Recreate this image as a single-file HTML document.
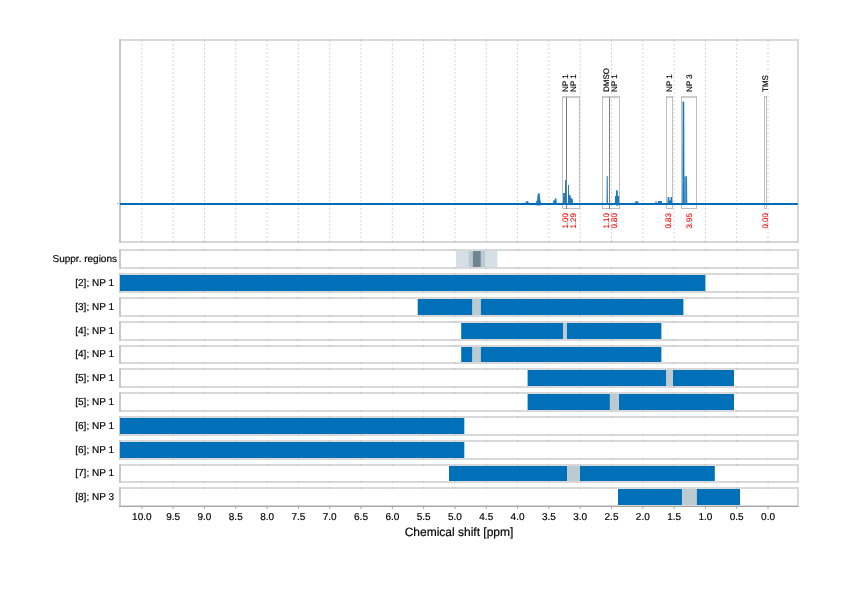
<!DOCTYPE html><html><head><meta charset="utf-8"><style>html,body{margin:0;padding:0;background:#fff;overflow:hidden}svg{display:block;will-change:transform}text{font-family:"Liberation Sans",sans-serif;text-rendering:geometricPrecision}</style></head><body>
<svg width="842" height="595" viewBox="0 0 842 595">
<line x1="768.05" y1="40" x2="768.05" y2="242" stroke="#d6d6d6" stroke-width="1" stroke-dasharray="2,2"/>
<line x1="736.74" y1="40" x2="736.74" y2="242" stroke="#d6d6d6" stroke-width="1" stroke-dasharray="2,2"/>
<line x1="705.43" y1="40" x2="705.43" y2="242" stroke="#d6d6d6" stroke-width="1" stroke-dasharray="2,2"/>
<line x1="674.12" y1="40" x2="674.12" y2="242" stroke="#d6d6d6" stroke-width="1" stroke-dasharray="2,2"/>
<line x1="642.81" y1="40" x2="642.81" y2="242" stroke="#d6d6d6" stroke-width="1" stroke-dasharray="2,2"/>
<line x1="611.50" y1="40" x2="611.50" y2="242" stroke="#d6d6d6" stroke-width="1" stroke-dasharray="2,2"/>
<line x1="580.19" y1="40" x2="580.19" y2="242" stroke="#d6d6d6" stroke-width="1" stroke-dasharray="2,2"/>
<line x1="548.88" y1="40" x2="548.88" y2="242" stroke="#d6d6d6" stroke-width="1" stroke-dasharray="2,2"/>
<line x1="517.57" y1="40" x2="517.57" y2="242" stroke="#d6d6d6" stroke-width="1" stroke-dasharray="2,2"/>
<line x1="486.26" y1="40" x2="486.26" y2="242" stroke="#d6d6d6" stroke-width="1" stroke-dasharray="2,2"/>
<line x1="454.95" y1="40" x2="454.95" y2="242" stroke="#d6d6d6" stroke-width="1" stroke-dasharray="2,2"/>
<line x1="423.64" y1="40" x2="423.64" y2="242" stroke="#d6d6d6" stroke-width="1" stroke-dasharray="2,2"/>
<line x1="392.33" y1="40" x2="392.33" y2="242" stroke="#d6d6d6" stroke-width="1" stroke-dasharray="2,2"/>
<line x1="361.02" y1="40" x2="361.02" y2="242" stroke="#d6d6d6" stroke-width="1" stroke-dasharray="2,2"/>
<line x1="329.71" y1="40" x2="329.71" y2="242" stroke="#d6d6d6" stroke-width="1" stroke-dasharray="2,2"/>
<line x1="298.40" y1="40" x2="298.40" y2="242" stroke="#d6d6d6" stroke-width="1" stroke-dasharray="2,2"/>
<line x1="267.09" y1="40" x2="267.09" y2="242" stroke="#d6d6d6" stroke-width="1" stroke-dasharray="2,2"/>
<line x1="235.78" y1="40" x2="235.78" y2="242" stroke="#d6d6d6" stroke-width="1" stroke-dasharray="2,2"/>
<line x1="204.47" y1="40" x2="204.47" y2="242" stroke="#d6d6d6" stroke-width="1" stroke-dasharray="2,2"/>
<line x1="173.16" y1="40" x2="173.16" y2="242" stroke="#d6d6d6" stroke-width="1" stroke-dasharray="2,2"/>
<line x1="141.85" y1="40" x2="141.85" y2="242" stroke="#d6d6d6" stroke-width="1" stroke-dasharray="2,2"/>
<line x1="119" y1="40.0" x2="799" y2="40.0" stroke="#dadada" stroke-width="2"/>
<line x1="119" y1="242.0" x2="799" y2="242.0" stroke="#d6d6d6" stroke-width="2"/>
<line x1="120.0" y1="39" x2="120.0" y2="243" stroke="#c6c6c6" stroke-width="2"/>
<line x1="798.0" y1="39" x2="798.0" y2="243" stroke="#d8d8d8" stroke-width="2"/>
<line x1="768.05" y1="39" x2="768.05" y2="41" stroke="#c4c4c4" stroke-width="1"/>
<line x1="768.05" y1="241" x2="768.05" y2="243" stroke="#c4c4c4" stroke-width="1"/>
<line x1="736.74" y1="39" x2="736.74" y2="41" stroke="#c4c4c4" stroke-width="1"/>
<line x1="736.74" y1="241" x2="736.74" y2="243" stroke="#c4c4c4" stroke-width="1"/>
<line x1="705.43" y1="39" x2="705.43" y2="41" stroke="#c4c4c4" stroke-width="1"/>
<line x1="705.43" y1="241" x2="705.43" y2="243" stroke="#c4c4c4" stroke-width="1"/>
<line x1="674.12" y1="39" x2="674.12" y2="41" stroke="#c4c4c4" stroke-width="1"/>
<line x1="674.12" y1="241" x2="674.12" y2="243" stroke="#c4c4c4" stroke-width="1"/>
<line x1="642.81" y1="39" x2="642.81" y2="41" stroke="#c4c4c4" stroke-width="1"/>
<line x1="642.81" y1="241" x2="642.81" y2="243" stroke="#c4c4c4" stroke-width="1"/>
<line x1="611.5" y1="39" x2="611.5" y2="41" stroke="#c4c4c4" stroke-width="1"/>
<line x1="611.5" y1="241" x2="611.5" y2="243" stroke="#c4c4c4" stroke-width="1"/>
<line x1="580.19" y1="39" x2="580.19" y2="41" stroke="#c4c4c4" stroke-width="1"/>
<line x1="580.19" y1="241" x2="580.19" y2="243" stroke="#c4c4c4" stroke-width="1"/>
<line x1="548.88" y1="39" x2="548.88" y2="41" stroke="#c4c4c4" stroke-width="1"/>
<line x1="548.88" y1="241" x2="548.88" y2="243" stroke="#c4c4c4" stroke-width="1"/>
<line x1="517.57" y1="39" x2="517.57" y2="41" stroke="#c4c4c4" stroke-width="1"/>
<line x1="517.57" y1="241" x2="517.57" y2="243" stroke="#c4c4c4" stroke-width="1"/>
<line x1="486.26" y1="39" x2="486.26" y2="41" stroke="#c4c4c4" stroke-width="1"/>
<line x1="486.26" y1="241" x2="486.26" y2="243" stroke="#c4c4c4" stroke-width="1"/>
<line x1="454.95" y1="39" x2="454.95" y2="41" stroke="#c4c4c4" stroke-width="1"/>
<line x1="454.95" y1="241" x2="454.95" y2="243" stroke="#c4c4c4" stroke-width="1"/>
<line x1="423.64" y1="39" x2="423.64" y2="41" stroke="#c4c4c4" stroke-width="1"/>
<line x1="423.64" y1="241" x2="423.64" y2="243" stroke="#c4c4c4" stroke-width="1"/>
<line x1="392.33" y1="39" x2="392.33" y2="41" stroke="#c4c4c4" stroke-width="1"/>
<line x1="392.33" y1="241" x2="392.33" y2="243" stroke="#c4c4c4" stroke-width="1"/>
<line x1="361.02" y1="39" x2="361.02" y2="41" stroke="#c4c4c4" stroke-width="1"/>
<line x1="361.02" y1="241" x2="361.02" y2="243" stroke="#c4c4c4" stroke-width="1"/>
<line x1="329.71" y1="39" x2="329.71" y2="41" stroke="#c4c4c4" stroke-width="1"/>
<line x1="329.71" y1="241" x2="329.71" y2="243" stroke="#c4c4c4" stroke-width="1"/>
<line x1="298.4" y1="39" x2="298.4" y2="41" stroke="#c4c4c4" stroke-width="1"/>
<line x1="298.4" y1="241" x2="298.4" y2="243" stroke="#c4c4c4" stroke-width="1"/>
<line x1="267.09" y1="39" x2="267.09" y2="41" stroke="#c4c4c4" stroke-width="1"/>
<line x1="267.09" y1="241" x2="267.09" y2="243" stroke="#c4c4c4" stroke-width="1"/>
<line x1="235.78" y1="39" x2="235.78" y2="41" stroke="#c4c4c4" stroke-width="1"/>
<line x1="235.78" y1="241" x2="235.78" y2="243" stroke="#c4c4c4" stroke-width="1"/>
<line x1="204.47" y1="39" x2="204.47" y2="41" stroke="#c4c4c4" stroke-width="1"/>
<line x1="204.47" y1="241" x2="204.47" y2="243" stroke="#c4c4c4" stroke-width="1"/>
<line x1="173.16" y1="39" x2="173.16" y2="41" stroke="#c4c4c4" stroke-width="1"/>
<line x1="173.16" y1="241" x2="173.16" y2="243" stroke="#c4c4c4" stroke-width="1"/>
<line x1="141.85" y1="39" x2="141.85" y2="41" stroke="#c4c4c4" stroke-width="1"/>
<line x1="141.85" y1="241" x2="141.85" y2="243" stroke="#c4c4c4" stroke-width="1"/>
<line x1="562" y1="97" x2="567" y2="97" stroke="#c8c8c8" stroke-width="1.8"/>
<line x1="562" y1="208.5" x2="567" y2="208.5" stroke="#c0c0c0" stroke-width="1"/>
<line x1="562.5" y1="96.2" x2="562.5" y2="209" stroke="#c0c0c0" stroke-width="1"/>
<line x1="566.5" y1="96.2" x2="566.5" y2="209" stroke="#c0c0c0" stroke-width="1"/>
<line x1="566" y1="97" x2="580" y2="97" stroke="#c8c8c8" stroke-width="1.8"/>
<line x1="566" y1="208.5" x2="580" y2="208.5" stroke="#c0c0c0" stroke-width="1"/>
<line x1="566.5" y1="96.2" x2="566.5" y2="209" stroke="#c0c0c0" stroke-width="1"/>
<line x1="579.5" y1="96.2" x2="579.5" y2="209" stroke="#c0c0c0" stroke-width="1"/>
<line x1="602" y1="97" x2="610" y2="97" stroke="#c8c8c8" stroke-width="1.8"/>
<line x1="602" y1="208.5" x2="610" y2="208.5" stroke="#c0c0c0" stroke-width="1"/>
<line x1="602.5" y1="96.2" x2="602.5" y2="209" stroke="#c0c0c0" stroke-width="1"/>
<line x1="609.5" y1="96.2" x2="609.5" y2="209" stroke="#c0c0c0" stroke-width="1"/>
<line x1="609" y1="97" x2="620" y2="97" stroke="#c8c8c8" stroke-width="1.8"/>
<line x1="609" y1="208.5" x2="620" y2="208.5" stroke="#c0c0c0" stroke-width="1"/>
<line x1="609.5" y1="96.2" x2="609.5" y2="209" stroke="#c0c0c0" stroke-width="1"/>
<line x1="619.5" y1="96.2" x2="619.5" y2="209" stroke="#c0c0c0" stroke-width="1"/>
<line x1="666" y1="97" x2="673" y2="97" stroke="#c8c8c8" stroke-width="1.8"/>
<line x1="666" y1="208.5" x2="673" y2="208.5" stroke="#c0c0c0" stroke-width="1"/>
<line x1="666.5" y1="96.2" x2="666.5" y2="209" stroke="#c0c0c0" stroke-width="1"/>
<line x1="672.5" y1="96.2" x2="672.5" y2="209" stroke="#c0c0c0" stroke-width="1"/>
<line x1="681" y1="97" x2="697" y2="97" stroke="#c8c8c8" stroke-width="1.8"/>
<line x1="681" y1="208.5" x2="697" y2="208.5" stroke="#c0c0c0" stroke-width="1"/>
<line x1="681.5" y1="96.2" x2="681.5" y2="209" stroke="#c0c0c0" stroke-width="1"/>
<line x1="696.5" y1="96.2" x2="696.5" y2="209" stroke="#c0c0c0" stroke-width="1"/>
<line x1="764" y1="97" x2="767" y2="97" stroke="#c8c8c8" stroke-width="1.8"/>
<line x1="764" y1="208.5" x2="767" y2="208.5" stroke="#c0c0c0" stroke-width="1"/>
<line x1="764.5" y1="96.2" x2="764.5" y2="209" stroke="#c0c0c0" stroke-width="1"/>
<line x1="766.5" y1="96.2" x2="766.5" y2="209" stroke="#c0c0c0" stroke-width="1"/>
<line x1="566.5" y1="97.5" x2="566.5" y2="209" stroke="#7a7a7a" stroke-width="1"/>
<line x1="609.5" y1="97.5" x2="609.5" y2="209" stroke="#7a7a7a" stroke-width="1"/>
<path d="M120,203.9 L797.8,203.9" fill="none" stroke="#006bb6" stroke-width="2"/>
<path d="M524.8,203.9 L526,201.8 L527,201.0 L528.2,201.8 L529.4,203.9Z" fill="#006bb6" fill-opacity="0.9"/>
<path d="M536.0,205.2 L536.2,201.5 L537.2,200 L537.4,196 L538.2,193.2 L539.6,193.2 L540.0,197 L540.3,200.5 L541.0,202 L541.2,205.2 L539,205.6Z" fill="#006bb6" fill-opacity="0.9"/>
<path d="M553.0,204.8 L553.3,200.4 L554.6,200.2 L555.0,198.4 L556.4,198.3 L556.8,204.8Z" fill="#006bb6" fill-opacity="0.9"/>
<path d="M563.0,203.9 L563.2,193.0 L565.0,193.0 L565.1,180.0 L566.0,180.0 L566.2,203.0 L567.9,203.0 L568.0,185.0 L568.9,185.0 L569.0,195.0 L570.5,195.0 L570.6,197.4 L571.5,197.4 L571.6,198.8 L572.7,198.8 L573.0,204.8 L571,205.2Z" fill="#006bb6" fill-opacity="0.9"/>
<path d="M606.5,203.9 L606.7,176.1 L607.7,176.1 L607.9,203.9Z" fill="#006bb6" fill-opacity="0.9"/>
<path d="M614.8,203.9 L615.0,195.9 L616.0,195.9 L616.1,190.2 L617.8,190.2 L617.9,195.9 L619.1,195.9 L619.2,203.9 L618.5,205.5 L616.2,205.5Z" fill="#006bb6" fill-opacity="0.9"/>
<path d="M634.8,203.9 L635.4,201.2 L638.0,201.2 L638.6,203.9 L637,205 L636.2,205Z" fill="#006bb6" fill-opacity="0.9"/>
<path d="M655.3,203.9 L655.5,201.3 L656.6,201.3 L656.8,203.9Z" fill="#006bb6" fill-opacity="0.9"/>
<path d="M657.8,204.6 L658.0,201.1 L661.8,201.1 L662.0,204.6Z" fill="#006bb6" fill-opacity="0.9"/>
<path d="M667.4,203.9 L667.7,197.1 L669.2,197.1 L669.5,200.5 L670.4,200.5 L670.6,197.1 L672.0,197.1 L672.3,203.9Z" fill="#006bb6" fill-opacity="0.9"/>
<path d="M684.2,203.9 L684.4,176.2 L687.0,176.2 L687.2,203.9 Z" fill="#006bb6" fill-opacity="0.7"/>
<path d="M686.2,203.9 L686.3,176.5 L687.0,176.5 L687.2,203.9 Z" fill="#006bb6" fill-opacity="0.6"/>
<path d="M682.3,204.9 L682.6,101.5 L684.2,101.5 L684.5,204.9 Z" fill="#006bb6" fill-opacity="0.92"/>
<line x1="117" y1="203.6" x2="119.2" y2="203.6" stroke="#a0a0a0" stroke-width="0.8"/>
<text transform="translate(567.50,92) rotate(-90)" font-size="8" fill="#000" stroke="#000" stroke-width="0.15">NP 1</text>
<text transform="translate(567.80,228.6) rotate(-90)" font-size="8" fill="#ff0000" stroke="#ff0000" stroke-width="0.1">1.00</text>
<text transform="translate(575.60,92) rotate(-90)" font-size="8" fill="#000" stroke="#000" stroke-width="0.15">NP 1</text>
<text transform="translate(575.80,228.6) rotate(-90)" font-size="8" fill="#ff0000" stroke="#ff0000" stroke-width="0.1">1.29</text>
<text transform="translate(609.10,92) rotate(-90)" font-size="8" fill="#000" stroke="#000" stroke-width="0.15">DMSO</text>
<text transform="translate(609.00,228.6) rotate(-90)" font-size="8" fill="#ff0000" stroke="#ff0000" stroke-width="0.1">1.10</text>
<text transform="translate(616.50,92) rotate(-90)" font-size="8" fill="#000" stroke="#000" stroke-width="0.15">NP 1</text>
<text transform="translate(616.60,228.6) rotate(-90)" font-size="8" fill="#ff0000" stroke="#ff0000" stroke-width="0.1">0.80</text>
<text transform="translate(671.80,92) rotate(-90)" font-size="8" fill="#000" stroke="#000" stroke-width="0.15">NP 1</text>
<text transform="translate(671.40,228.6) rotate(-90)" font-size="8" fill="#ff0000" stroke="#ff0000" stroke-width="0.1">0.83</text>
<text transform="translate(691.50,92) rotate(-90)" font-size="8" fill="#000" stroke="#000" stroke-width="0.15">NP 3</text>
<text transform="translate(691.90,228.6) rotate(-90)" font-size="8" fill="#ff0000" stroke="#ff0000" stroke-width="0.1">3.95</text>
<text transform="translate(768.30,92) rotate(-90)" font-size="8" fill="#000" stroke="#000" stroke-width="0.15">TMS</text>
<text transform="translate(768.00,228.6) rotate(-90)" font-size="8" fill="#ff0000" stroke="#ff0000" stroke-width="0.1">0.00</text>
<line x1="119" y1="250.0" x2="799" y2="250.0" stroke="#d9d9d9" stroke-width="2"/>
<line x1="119" y1="268.0" x2="799" y2="268.0" stroke="#d9d9d9" stroke-width="2"/>
<line x1="120.0" y1="249" x2="120.0" y2="269" stroke="#c8c8c8" stroke-width="2"/>
<line x1="798.0" y1="249" x2="798.0" y2="269" stroke="#d8d8d8" stroke-width="2"/>
<line x1="768.05" y1="249" x2="768.05" y2="251" stroke="#c4c4c4" stroke-width="1"/>
<line x1="768.05" y1="267" x2="768.05" y2="269" stroke="#c4c4c4" stroke-width="1"/>
<line x1="736.74" y1="249" x2="736.74" y2="251" stroke="#c4c4c4" stroke-width="1"/>
<line x1="736.74" y1="267" x2="736.74" y2="269" stroke="#c4c4c4" stroke-width="1"/>
<line x1="705.43" y1="249" x2="705.43" y2="251" stroke="#c4c4c4" stroke-width="1"/>
<line x1="705.43" y1="267" x2="705.43" y2="269" stroke="#c4c4c4" stroke-width="1"/>
<line x1="674.12" y1="249" x2="674.12" y2="251" stroke="#c4c4c4" stroke-width="1"/>
<line x1="674.12" y1="267" x2="674.12" y2="269" stroke="#c4c4c4" stroke-width="1"/>
<line x1="642.81" y1="249" x2="642.81" y2="251" stroke="#c4c4c4" stroke-width="1"/>
<line x1="642.81" y1="267" x2="642.81" y2="269" stroke="#c4c4c4" stroke-width="1"/>
<line x1="611.5" y1="249" x2="611.5" y2="251" stroke="#c4c4c4" stroke-width="1"/>
<line x1="611.5" y1="267" x2="611.5" y2="269" stroke="#c4c4c4" stroke-width="1"/>
<line x1="580.19" y1="249" x2="580.19" y2="251" stroke="#c4c4c4" stroke-width="1"/>
<line x1="580.19" y1="267" x2="580.19" y2="269" stroke="#c4c4c4" stroke-width="1"/>
<line x1="548.88" y1="249" x2="548.88" y2="251" stroke="#c4c4c4" stroke-width="1"/>
<line x1="548.88" y1="267" x2="548.88" y2="269" stroke="#c4c4c4" stroke-width="1"/>
<line x1="517.57" y1="249" x2="517.57" y2="251" stroke="#c4c4c4" stroke-width="1"/>
<line x1="517.57" y1="267" x2="517.57" y2="269" stroke="#c4c4c4" stroke-width="1"/>
<line x1="486.26" y1="249" x2="486.26" y2="251" stroke="#c4c4c4" stroke-width="1"/>
<line x1="486.26" y1="267" x2="486.26" y2="269" stroke="#c4c4c4" stroke-width="1"/>
<line x1="454.95" y1="249" x2="454.95" y2="251" stroke="#c4c4c4" stroke-width="1"/>
<line x1="454.95" y1="267" x2="454.95" y2="269" stroke="#c4c4c4" stroke-width="1"/>
<line x1="423.64" y1="249" x2="423.64" y2="251" stroke="#c4c4c4" stroke-width="1"/>
<line x1="423.64" y1="267" x2="423.64" y2="269" stroke="#c4c4c4" stroke-width="1"/>
<line x1="392.33" y1="249" x2="392.33" y2="251" stroke="#c4c4c4" stroke-width="1"/>
<line x1="392.33" y1="267" x2="392.33" y2="269" stroke="#c4c4c4" stroke-width="1"/>
<line x1="361.02" y1="249" x2="361.02" y2="251" stroke="#c4c4c4" stroke-width="1"/>
<line x1="361.02" y1="267" x2="361.02" y2="269" stroke="#c4c4c4" stroke-width="1"/>
<line x1="329.71" y1="249" x2="329.71" y2="251" stroke="#c4c4c4" stroke-width="1"/>
<line x1="329.71" y1="267" x2="329.71" y2="269" stroke="#c4c4c4" stroke-width="1"/>
<line x1="298.4" y1="249" x2="298.4" y2="251" stroke="#c4c4c4" stroke-width="1"/>
<line x1="298.4" y1="267" x2="298.4" y2="269" stroke="#c4c4c4" stroke-width="1"/>
<line x1="267.09" y1="249" x2="267.09" y2="251" stroke="#c4c4c4" stroke-width="1"/>
<line x1="267.09" y1="267" x2="267.09" y2="269" stroke="#c4c4c4" stroke-width="1"/>
<line x1="235.78" y1="249" x2="235.78" y2="251" stroke="#c4c4c4" stroke-width="1"/>
<line x1="235.78" y1="267" x2="235.78" y2="269" stroke="#c4c4c4" stroke-width="1"/>
<line x1="204.47" y1="249" x2="204.47" y2="251" stroke="#c4c4c4" stroke-width="1"/>
<line x1="204.47" y1="267" x2="204.47" y2="269" stroke="#c4c4c4" stroke-width="1"/>
<line x1="173.16" y1="249" x2="173.16" y2="251" stroke="#c4c4c4" stroke-width="1"/>
<line x1="173.16" y1="267" x2="173.16" y2="269" stroke="#c4c4c4" stroke-width="1"/>
<line x1="141.85" y1="249" x2="141.85" y2="251" stroke="#c4c4c4" stroke-width="1"/>
<line x1="141.85" y1="267" x2="141.85" y2="269" stroke="#c4c4c4" stroke-width="1"/>
<rect x="456" y="251" width="41.4" height="16" fill="#d6dfe6"/>
<rect x="468.6" y="251" width="16.5" height="16" fill="#b9cad3"/>
<rect x="472.9" y="251" width="7.8" height="16" fill="#708593"/>
<text x="117" y="261.90" font-size="10" text-anchor="end" fill="#000" stroke="#000" stroke-width="0.18">Suppr. regions</text>
<line x1="119" y1="274.0" x2="799" y2="274.0" stroke="#d9d9d9" stroke-width="2"/>
<line x1="119" y1="292.0" x2="799" y2="292.0" stroke="#d9d9d9" stroke-width="2"/>
<line x1="120.0" y1="273" x2="120.0" y2="293" stroke="#c8c8c8" stroke-width="2"/>
<line x1="798.0" y1="273" x2="798.0" y2="293" stroke="#d8d8d8" stroke-width="2"/>
<line x1="768.05" y1="273" x2="768.05" y2="275" stroke="#c4c4c4" stroke-width="1"/>
<line x1="768.05" y1="291" x2="768.05" y2="293" stroke="#c4c4c4" stroke-width="1"/>
<line x1="736.74" y1="273" x2="736.74" y2="275" stroke="#c4c4c4" stroke-width="1"/>
<line x1="736.74" y1="291" x2="736.74" y2="293" stroke="#c4c4c4" stroke-width="1"/>
<line x1="705.43" y1="273" x2="705.43" y2="275" stroke="#c4c4c4" stroke-width="1"/>
<line x1="705.43" y1="291" x2="705.43" y2="293" stroke="#c4c4c4" stroke-width="1"/>
<line x1="674.12" y1="273" x2="674.12" y2="275" stroke="#c4c4c4" stroke-width="1"/>
<line x1="674.12" y1="291" x2="674.12" y2="293" stroke="#c4c4c4" stroke-width="1"/>
<line x1="642.81" y1="273" x2="642.81" y2="275" stroke="#c4c4c4" stroke-width="1"/>
<line x1="642.81" y1="291" x2="642.81" y2="293" stroke="#c4c4c4" stroke-width="1"/>
<line x1="611.5" y1="273" x2="611.5" y2="275" stroke="#c4c4c4" stroke-width="1"/>
<line x1="611.5" y1="291" x2="611.5" y2="293" stroke="#c4c4c4" stroke-width="1"/>
<line x1="580.19" y1="273" x2="580.19" y2="275" stroke="#c4c4c4" stroke-width="1"/>
<line x1="580.19" y1="291" x2="580.19" y2="293" stroke="#c4c4c4" stroke-width="1"/>
<line x1="548.88" y1="273" x2="548.88" y2="275" stroke="#c4c4c4" stroke-width="1"/>
<line x1="548.88" y1="291" x2="548.88" y2="293" stroke="#c4c4c4" stroke-width="1"/>
<line x1="517.57" y1="273" x2="517.57" y2="275" stroke="#c4c4c4" stroke-width="1"/>
<line x1="517.57" y1="291" x2="517.57" y2="293" stroke="#c4c4c4" stroke-width="1"/>
<line x1="486.26" y1="273" x2="486.26" y2="275" stroke="#c4c4c4" stroke-width="1"/>
<line x1="486.26" y1="291" x2="486.26" y2="293" stroke="#c4c4c4" stroke-width="1"/>
<line x1="454.95" y1="273" x2="454.95" y2="275" stroke="#c4c4c4" stroke-width="1"/>
<line x1="454.95" y1="291" x2="454.95" y2="293" stroke="#c4c4c4" stroke-width="1"/>
<line x1="423.64" y1="273" x2="423.64" y2="275" stroke="#c4c4c4" stroke-width="1"/>
<line x1="423.64" y1="291" x2="423.64" y2="293" stroke="#c4c4c4" stroke-width="1"/>
<line x1="392.33" y1="273" x2="392.33" y2="275" stroke="#c4c4c4" stroke-width="1"/>
<line x1="392.33" y1="291" x2="392.33" y2="293" stroke="#c4c4c4" stroke-width="1"/>
<line x1="361.02" y1="273" x2="361.02" y2="275" stroke="#c4c4c4" stroke-width="1"/>
<line x1="361.02" y1="291" x2="361.02" y2="293" stroke="#c4c4c4" stroke-width="1"/>
<line x1="329.71" y1="273" x2="329.71" y2="275" stroke="#c4c4c4" stroke-width="1"/>
<line x1="329.71" y1="291" x2="329.71" y2="293" stroke="#c4c4c4" stroke-width="1"/>
<line x1="298.4" y1="273" x2="298.4" y2="275" stroke="#c4c4c4" stroke-width="1"/>
<line x1="298.4" y1="291" x2="298.4" y2="293" stroke="#c4c4c4" stroke-width="1"/>
<line x1="267.09" y1="273" x2="267.09" y2="275" stroke="#c4c4c4" stroke-width="1"/>
<line x1="267.09" y1="291" x2="267.09" y2="293" stroke="#c4c4c4" stroke-width="1"/>
<line x1="235.78" y1="273" x2="235.78" y2="275" stroke="#c4c4c4" stroke-width="1"/>
<line x1="235.78" y1="291" x2="235.78" y2="293" stroke="#c4c4c4" stroke-width="1"/>
<line x1="204.47" y1="273" x2="204.47" y2="275" stroke="#c4c4c4" stroke-width="1"/>
<line x1="204.47" y1="291" x2="204.47" y2="293" stroke="#c4c4c4" stroke-width="1"/>
<line x1="173.16" y1="273" x2="173.16" y2="275" stroke="#c4c4c4" stroke-width="1"/>
<line x1="173.16" y1="291" x2="173.16" y2="293" stroke="#c4c4c4" stroke-width="1"/>
<line x1="141.85" y1="273" x2="141.85" y2="275" stroke="#c4c4c4" stroke-width="1"/>
<line x1="141.85" y1="291" x2="141.85" y2="293" stroke="#c4c4c4" stroke-width="1"/>
<rect x="120" y="275" width="585.40" height="16" fill="#0070b9"/>
<text x="114.0" y="285.90" font-size="10" text-anchor="end" fill="#000" stroke="#000" stroke-width="0.18">[2]; NP 1</text>
<line x1="119" y1="298.0" x2="799" y2="298.0" stroke="#d9d9d9" stroke-width="2"/>
<line x1="119" y1="316.0" x2="799" y2="316.0" stroke="#d9d9d9" stroke-width="2"/>
<line x1="120.0" y1="297" x2="120.0" y2="317" stroke="#c8c8c8" stroke-width="2"/>
<line x1="798.0" y1="297" x2="798.0" y2="317" stroke="#d8d8d8" stroke-width="2"/>
<line x1="768.05" y1="297" x2="768.05" y2="299" stroke="#c4c4c4" stroke-width="1"/>
<line x1="768.05" y1="315" x2="768.05" y2="317" stroke="#c4c4c4" stroke-width="1"/>
<line x1="736.74" y1="297" x2="736.74" y2="299" stroke="#c4c4c4" stroke-width="1"/>
<line x1="736.74" y1="315" x2="736.74" y2="317" stroke="#c4c4c4" stroke-width="1"/>
<line x1="705.43" y1="297" x2="705.43" y2="299" stroke="#c4c4c4" stroke-width="1"/>
<line x1="705.43" y1="315" x2="705.43" y2="317" stroke="#c4c4c4" stroke-width="1"/>
<line x1="674.12" y1="297" x2="674.12" y2="299" stroke="#c4c4c4" stroke-width="1"/>
<line x1="674.12" y1="315" x2="674.12" y2="317" stroke="#c4c4c4" stroke-width="1"/>
<line x1="642.81" y1="297" x2="642.81" y2="299" stroke="#c4c4c4" stroke-width="1"/>
<line x1="642.81" y1="315" x2="642.81" y2="317" stroke="#c4c4c4" stroke-width="1"/>
<line x1="611.5" y1="297" x2="611.5" y2="299" stroke="#c4c4c4" stroke-width="1"/>
<line x1="611.5" y1="315" x2="611.5" y2="317" stroke="#c4c4c4" stroke-width="1"/>
<line x1="580.19" y1="297" x2="580.19" y2="299" stroke="#c4c4c4" stroke-width="1"/>
<line x1="580.19" y1="315" x2="580.19" y2="317" stroke="#c4c4c4" stroke-width="1"/>
<line x1="548.88" y1="297" x2="548.88" y2="299" stroke="#c4c4c4" stroke-width="1"/>
<line x1="548.88" y1="315" x2="548.88" y2="317" stroke="#c4c4c4" stroke-width="1"/>
<line x1="517.57" y1="297" x2="517.57" y2="299" stroke="#c4c4c4" stroke-width="1"/>
<line x1="517.57" y1="315" x2="517.57" y2="317" stroke="#c4c4c4" stroke-width="1"/>
<line x1="486.26" y1="297" x2="486.26" y2="299" stroke="#c4c4c4" stroke-width="1"/>
<line x1="486.26" y1="315" x2="486.26" y2="317" stroke="#c4c4c4" stroke-width="1"/>
<line x1="454.95" y1="297" x2="454.95" y2="299" stroke="#c4c4c4" stroke-width="1"/>
<line x1="454.95" y1="315" x2="454.95" y2="317" stroke="#c4c4c4" stroke-width="1"/>
<line x1="423.64" y1="297" x2="423.64" y2="299" stroke="#c4c4c4" stroke-width="1"/>
<line x1="423.64" y1="315" x2="423.64" y2="317" stroke="#c4c4c4" stroke-width="1"/>
<line x1="392.33" y1="297" x2="392.33" y2="299" stroke="#c4c4c4" stroke-width="1"/>
<line x1="392.33" y1="315" x2="392.33" y2="317" stroke="#c4c4c4" stroke-width="1"/>
<line x1="361.02" y1="297" x2="361.02" y2="299" stroke="#c4c4c4" stroke-width="1"/>
<line x1="361.02" y1="315" x2="361.02" y2="317" stroke="#c4c4c4" stroke-width="1"/>
<line x1="329.71" y1="297" x2="329.71" y2="299" stroke="#c4c4c4" stroke-width="1"/>
<line x1="329.71" y1="315" x2="329.71" y2="317" stroke="#c4c4c4" stroke-width="1"/>
<line x1="298.4" y1="297" x2="298.4" y2="299" stroke="#c4c4c4" stroke-width="1"/>
<line x1="298.4" y1="315" x2="298.4" y2="317" stroke="#c4c4c4" stroke-width="1"/>
<line x1="267.09" y1="297" x2="267.09" y2="299" stroke="#c4c4c4" stroke-width="1"/>
<line x1="267.09" y1="315" x2="267.09" y2="317" stroke="#c4c4c4" stroke-width="1"/>
<line x1="235.78" y1="297" x2="235.78" y2="299" stroke="#c4c4c4" stroke-width="1"/>
<line x1="235.78" y1="315" x2="235.78" y2="317" stroke="#c4c4c4" stroke-width="1"/>
<line x1="204.47" y1="297" x2="204.47" y2="299" stroke="#c4c4c4" stroke-width="1"/>
<line x1="204.47" y1="315" x2="204.47" y2="317" stroke="#c4c4c4" stroke-width="1"/>
<line x1="173.16" y1="297" x2="173.16" y2="299" stroke="#c4c4c4" stroke-width="1"/>
<line x1="173.16" y1="315" x2="173.16" y2="317" stroke="#c4c4c4" stroke-width="1"/>
<line x1="141.85" y1="297" x2="141.85" y2="299" stroke="#c4c4c4" stroke-width="1"/>
<line x1="141.85" y1="315" x2="141.85" y2="317" stroke="#c4c4c4" stroke-width="1"/>
<rect x="417.7" y="299" width="265.70" height="16" fill="#0070b9"/>
<rect x="472.1" y="299" width="8.80" height="16" fill="#bccad2"/>
<text x="114.0" y="309.90" font-size="10" text-anchor="end" fill="#000" stroke="#000" stroke-width="0.18">[3]; NP 1</text>
<line x1="119" y1="322.0" x2="799" y2="322.0" stroke="#d9d9d9" stroke-width="2"/>
<line x1="119" y1="340.0" x2="799" y2="340.0" stroke="#d9d9d9" stroke-width="2"/>
<line x1="120.0" y1="321" x2="120.0" y2="341" stroke="#c8c8c8" stroke-width="2"/>
<line x1="798.0" y1="321" x2="798.0" y2="341" stroke="#d8d8d8" stroke-width="2"/>
<line x1="768.05" y1="321" x2="768.05" y2="323" stroke="#c4c4c4" stroke-width="1"/>
<line x1="768.05" y1="339" x2="768.05" y2="341" stroke="#c4c4c4" stroke-width="1"/>
<line x1="736.74" y1="321" x2="736.74" y2="323" stroke="#c4c4c4" stroke-width="1"/>
<line x1="736.74" y1="339" x2="736.74" y2="341" stroke="#c4c4c4" stroke-width="1"/>
<line x1="705.43" y1="321" x2="705.43" y2="323" stroke="#c4c4c4" stroke-width="1"/>
<line x1="705.43" y1="339" x2="705.43" y2="341" stroke="#c4c4c4" stroke-width="1"/>
<line x1="674.12" y1="321" x2="674.12" y2="323" stroke="#c4c4c4" stroke-width="1"/>
<line x1="674.12" y1="339" x2="674.12" y2="341" stroke="#c4c4c4" stroke-width="1"/>
<line x1="642.81" y1="321" x2="642.81" y2="323" stroke="#c4c4c4" stroke-width="1"/>
<line x1="642.81" y1="339" x2="642.81" y2="341" stroke="#c4c4c4" stroke-width="1"/>
<line x1="611.5" y1="321" x2="611.5" y2="323" stroke="#c4c4c4" stroke-width="1"/>
<line x1="611.5" y1="339" x2="611.5" y2="341" stroke="#c4c4c4" stroke-width="1"/>
<line x1="580.19" y1="321" x2="580.19" y2="323" stroke="#c4c4c4" stroke-width="1"/>
<line x1="580.19" y1="339" x2="580.19" y2="341" stroke="#c4c4c4" stroke-width="1"/>
<line x1="548.88" y1="321" x2="548.88" y2="323" stroke="#c4c4c4" stroke-width="1"/>
<line x1="548.88" y1="339" x2="548.88" y2="341" stroke="#c4c4c4" stroke-width="1"/>
<line x1="517.57" y1="321" x2="517.57" y2="323" stroke="#c4c4c4" stroke-width="1"/>
<line x1="517.57" y1="339" x2="517.57" y2="341" stroke="#c4c4c4" stroke-width="1"/>
<line x1="486.26" y1="321" x2="486.26" y2="323" stroke="#c4c4c4" stroke-width="1"/>
<line x1="486.26" y1="339" x2="486.26" y2="341" stroke="#c4c4c4" stroke-width="1"/>
<line x1="454.95" y1="321" x2="454.95" y2="323" stroke="#c4c4c4" stroke-width="1"/>
<line x1="454.95" y1="339" x2="454.95" y2="341" stroke="#c4c4c4" stroke-width="1"/>
<line x1="423.64" y1="321" x2="423.64" y2="323" stroke="#c4c4c4" stroke-width="1"/>
<line x1="423.64" y1="339" x2="423.64" y2="341" stroke="#c4c4c4" stroke-width="1"/>
<line x1="392.33" y1="321" x2="392.33" y2="323" stroke="#c4c4c4" stroke-width="1"/>
<line x1="392.33" y1="339" x2="392.33" y2="341" stroke="#c4c4c4" stroke-width="1"/>
<line x1="361.02" y1="321" x2="361.02" y2="323" stroke="#c4c4c4" stroke-width="1"/>
<line x1="361.02" y1="339" x2="361.02" y2="341" stroke="#c4c4c4" stroke-width="1"/>
<line x1="329.71" y1="321" x2="329.71" y2="323" stroke="#c4c4c4" stroke-width="1"/>
<line x1="329.71" y1="339" x2="329.71" y2="341" stroke="#c4c4c4" stroke-width="1"/>
<line x1="298.4" y1="321" x2="298.4" y2="323" stroke="#c4c4c4" stroke-width="1"/>
<line x1="298.4" y1="339" x2="298.4" y2="341" stroke="#c4c4c4" stroke-width="1"/>
<line x1="267.09" y1="321" x2="267.09" y2="323" stroke="#c4c4c4" stroke-width="1"/>
<line x1="267.09" y1="339" x2="267.09" y2="341" stroke="#c4c4c4" stroke-width="1"/>
<line x1="235.78" y1="321" x2="235.78" y2="323" stroke="#c4c4c4" stroke-width="1"/>
<line x1="235.78" y1="339" x2="235.78" y2="341" stroke="#c4c4c4" stroke-width="1"/>
<line x1="204.47" y1="321" x2="204.47" y2="323" stroke="#c4c4c4" stroke-width="1"/>
<line x1="204.47" y1="339" x2="204.47" y2="341" stroke="#c4c4c4" stroke-width="1"/>
<line x1="173.16" y1="321" x2="173.16" y2="323" stroke="#c4c4c4" stroke-width="1"/>
<line x1="173.16" y1="339" x2="173.16" y2="341" stroke="#c4c4c4" stroke-width="1"/>
<line x1="141.85" y1="321" x2="141.85" y2="323" stroke="#c4c4c4" stroke-width="1"/>
<line x1="141.85" y1="339" x2="141.85" y2="341" stroke="#c4c4c4" stroke-width="1"/>
<rect x="461.2" y="323" width="200.20" height="16" fill="#0070b9"/>
<rect x="563" y="323" width="4.00" height="16" fill="#bccad2"/>
<text x="114.0" y="333.90" font-size="10" text-anchor="end" fill="#000" stroke="#000" stroke-width="0.18">[4]; NP 1</text>
<line x1="119" y1="346.0" x2="799" y2="346.0" stroke="#d9d9d9" stroke-width="2"/>
<line x1="119" y1="363.0" x2="799" y2="363.0" stroke="#d9d9d9" stroke-width="2"/>
<line x1="120.0" y1="345" x2="120.0" y2="364" stroke="#c8c8c8" stroke-width="2"/>
<line x1="798.0" y1="345" x2="798.0" y2="364" stroke="#d8d8d8" stroke-width="2"/>
<line x1="768.05" y1="345" x2="768.05" y2="347" stroke="#c4c4c4" stroke-width="1"/>
<line x1="768.05" y1="362" x2="768.05" y2="364" stroke="#c4c4c4" stroke-width="1"/>
<line x1="736.74" y1="345" x2="736.74" y2="347" stroke="#c4c4c4" stroke-width="1"/>
<line x1="736.74" y1="362" x2="736.74" y2="364" stroke="#c4c4c4" stroke-width="1"/>
<line x1="705.43" y1="345" x2="705.43" y2="347" stroke="#c4c4c4" stroke-width="1"/>
<line x1="705.43" y1="362" x2="705.43" y2="364" stroke="#c4c4c4" stroke-width="1"/>
<line x1="674.12" y1="345" x2="674.12" y2="347" stroke="#c4c4c4" stroke-width="1"/>
<line x1="674.12" y1="362" x2="674.12" y2="364" stroke="#c4c4c4" stroke-width="1"/>
<line x1="642.81" y1="345" x2="642.81" y2="347" stroke="#c4c4c4" stroke-width="1"/>
<line x1="642.81" y1="362" x2="642.81" y2="364" stroke="#c4c4c4" stroke-width="1"/>
<line x1="611.5" y1="345" x2="611.5" y2="347" stroke="#c4c4c4" stroke-width="1"/>
<line x1="611.5" y1="362" x2="611.5" y2="364" stroke="#c4c4c4" stroke-width="1"/>
<line x1="580.19" y1="345" x2="580.19" y2="347" stroke="#c4c4c4" stroke-width="1"/>
<line x1="580.19" y1="362" x2="580.19" y2="364" stroke="#c4c4c4" stroke-width="1"/>
<line x1="548.88" y1="345" x2="548.88" y2="347" stroke="#c4c4c4" stroke-width="1"/>
<line x1="548.88" y1="362" x2="548.88" y2="364" stroke="#c4c4c4" stroke-width="1"/>
<line x1="517.57" y1="345" x2="517.57" y2="347" stroke="#c4c4c4" stroke-width="1"/>
<line x1="517.57" y1="362" x2="517.57" y2="364" stroke="#c4c4c4" stroke-width="1"/>
<line x1="486.26" y1="345" x2="486.26" y2="347" stroke="#c4c4c4" stroke-width="1"/>
<line x1="486.26" y1="362" x2="486.26" y2="364" stroke="#c4c4c4" stroke-width="1"/>
<line x1="454.95" y1="345" x2="454.95" y2="347" stroke="#c4c4c4" stroke-width="1"/>
<line x1="454.95" y1="362" x2="454.95" y2="364" stroke="#c4c4c4" stroke-width="1"/>
<line x1="423.64" y1="345" x2="423.64" y2="347" stroke="#c4c4c4" stroke-width="1"/>
<line x1="423.64" y1="362" x2="423.64" y2="364" stroke="#c4c4c4" stroke-width="1"/>
<line x1="392.33" y1="345" x2="392.33" y2="347" stroke="#c4c4c4" stroke-width="1"/>
<line x1="392.33" y1="362" x2="392.33" y2="364" stroke="#c4c4c4" stroke-width="1"/>
<line x1="361.02" y1="345" x2="361.02" y2="347" stroke="#c4c4c4" stroke-width="1"/>
<line x1="361.02" y1="362" x2="361.02" y2="364" stroke="#c4c4c4" stroke-width="1"/>
<line x1="329.71" y1="345" x2="329.71" y2="347" stroke="#c4c4c4" stroke-width="1"/>
<line x1="329.71" y1="362" x2="329.71" y2="364" stroke="#c4c4c4" stroke-width="1"/>
<line x1="298.4" y1="345" x2="298.4" y2="347" stroke="#c4c4c4" stroke-width="1"/>
<line x1="298.4" y1="362" x2="298.4" y2="364" stroke="#c4c4c4" stroke-width="1"/>
<line x1="267.09" y1="345" x2="267.09" y2="347" stroke="#c4c4c4" stroke-width="1"/>
<line x1="267.09" y1="362" x2="267.09" y2="364" stroke="#c4c4c4" stroke-width="1"/>
<line x1="235.78" y1="345" x2="235.78" y2="347" stroke="#c4c4c4" stroke-width="1"/>
<line x1="235.78" y1="362" x2="235.78" y2="364" stroke="#c4c4c4" stroke-width="1"/>
<line x1="204.47" y1="345" x2="204.47" y2="347" stroke="#c4c4c4" stroke-width="1"/>
<line x1="204.47" y1="362" x2="204.47" y2="364" stroke="#c4c4c4" stroke-width="1"/>
<line x1="173.16" y1="345" x2="173.16" y2="347" stroke="#c4c4c4" stroke-width="1"/>
<line x1="173.16" y1="362" x2="173.16" y2="364" stroke="#c4c4c4" stroke-width="1"/>
<line x1="141.85" y1="345" x2="141.85" y2="347" stroke="#c4c4c4" stroke-width="1"/>
<line x1="141.85" y1="362" x2="141.85" y2="364" stroke="#c4c4c4" stroke-width="1"/>
<rect x="461.2" y="347" width="200.20" height="15" fill="#0070b9"/>
<rect x="472.1" y="347" width="8.80" height="15" fill="#bccad2"/>
<text x="114.0" y="357.40" font-size="10" text-anchor="end" fill="#000" stroke="#000" stroke-width="0.18">[4]; NP 1</text>
<line x1="119" y1="369.0" x2="799" y2="369.0" stroke="#d9d9d9" stroke-width="2"/>
<line x1="119" y1="387.0" x2="799" y2="387.0" stroke="#d9d9d9" stroke-width="2"/>
<line x1="120.0" y1="368" x2="120.0" y2="388" stroke="#c8c8c8" stroke-width="2"/>
<line x1="798.0" y1="368" x2="798.0" y2="388" stroke="#d8d8d8" stroke-width="2"/>
<line x1="768.05" y1="368" x2="768.05" y2="370" stroke="#c4c4c4" stroke-width="1"/>
<line x1="768.05" y1="386" x2="768.05" y2="388" stroke="#c4c4c4" stroke-width="1"/>
<line x1="736.74" y1="368" x2="736.74" y2="370" stroke="#c4c4c4" stroke-width="1"/>
<line x1="736.74" y1="386" x2="736.74" y2="388" stroke="#c4c4c4" stroke-width="1"/>
<line x1="705.43" y1="368" x2="705.43" y2="370" stroke="#c4c4c4" stroke-width="1"/>
<line x1="705.43" y1="386" x2="705.43" y2="388" stroke="#c4c4c4" stroke-width="1"/>
<line x1="674.12" y1="368" x2="674.12" y2="370" stroke="#c4c4c4" stroke-width="1"/>
<line x1="674.12" y1="386" x2="674.12" y2="388" stroke="#c4c4c4" stroke-width="1"/>
<line x1="642.81" y1="368" x2="642.81" y2="370" stroke="#c4c4c4" stroke-width="1"/>
<line x1="642.81" y1="386" x2="642.81" y2="388" stroke="#c4c4c4" stroke-width="1"/>
<line x1="611.5" y1="368" x2="611.5" y2="370" stroke="#c4c4c4" stroke-width="1"/>
<line x1="611.5" y1="386" x2="611.5" y2="388" stroke="#c4c4c4" stroke-width="1"/>
<line x1="580.19" y1="368" x2="580.19" y2="370" stroke="#c4c4c4" stroke-width="1"/>
<line x1="580.19" y1="386" x2="580.19" y2="388" stroke="#c4c4c4" stroke-width="1"/>
<line x1="548.88" y1="368" x2="548.88" y2="370" stroke="#c4c4c4" stroke-width="1"/>
<line x1="548.88" y1="386" x2="548.88" y2="388" stroke="#c4c4c4" stroke-width="1"/>
<line x1="517.57" y1="368" x2="517.57" y2="370" stroke="#c4c4c4" stroke-width="1"/>
<line x1="517.57" y1="386" x2="517.57" y2="388" stroke="#c4c4c4" stroke-width="1"/>
<line x1="486.26" y1="368" x2="486.26" y2="370" stroke="#c4c4c4" stroke-width="1"/>
<line x1="486.26" y1="386" x2="486.26" y2="388" stroke="#c4c4c4" stroke-width="1"/>
<line x1="454.95" y1="368" x2="454.95" y2="370" stroke="#c4c4c4" stroke-width="1"/>
<line x1="454.95" y1="386" x2="454.95" y2="388" stroke="#c4c4c4" stroke-width="1"/>
<line x1="423.64" y1="368" x2="423.64" y2="370" stroke="#c4c4c4" stroke-width="1"/>
<line x1="423.64" y1="386" x2="423.64" y2="388" stroke="#c4c4c4" stroke-width="1"/>
<line x1="392.33" y1="368" x2="392.33" y2="370" stroke="#c4c4c4" stroke-width="1"/>
<line x1="392.33" y1="386" x2="392.33" y2="388" stroke="#c4c4c4" stroke-width="1"/>
<line x1="361.02" y1="368" x2="361.02" y2="370" stroke="#c4c4c4" stroke-width="1"/>
<line x1="361.02" y1="386" x2="361.02" y2="388" stroke="#c4c4c4" stroke-width="1"/>
<line x1="329.71" y1="368" x2="329.71" y2="370" stroke="#c4c4c4" stroke-width="1"/>
<line x1="329.71" y1="386" x2="329.71" y2="388" stroke="#c4c4c4" stroke-width="1"/>
<line x1="298.4" y1="368" x2="298.4" y2="370" stroke="#c4c4c4" stroke-width="1"/>
<line x1="298.4" y1="386" x2="298.4" y2="388" stroke="#c4c4c4" stroke-width="1"/>
<line x1="267.09" y1="368" x2="267.09" y2="370" stroke="#c4c4c4" stroke-width="1"/>
<line x1="267.09" y1="386" x2="267.09" y2="388" stroke="#c4c4c4" stroke-width="1"/>
<line x1="235.78" y1="368" x2="235.78" y2="370" stroke="#c4c4c4" stroke-width="1"/>
<line x1="235.78" y1="386" x2="235.78" y2="388" stroke="#c4c4c4" stroke-width="1"/>
<line x1="204.47" y1="368" x2="204.47" y2="370" stroke="#c4c4c4" stroke-width="1"/>
<line x1="204.47" y1="386" x2="204.47" y2="388" stroke="#c4c4c4" stroke-width="1"/>
<line x1="173.16" y1="368" x2="173.16" y2="370" stroke="#c4c4c4" stroke-width="1"/>
<line x1="173.16" y1="386" x2="173.16" y2="388" stroke="#c4c4c4" stroke-width="1"/>
<line x1="141.85" y1="368" x2="141.85" y2="370" stroke="#c4c4c4" stroke-width="1"/>
<line x1="141.85" y1="386" x2="141.85" y2="388" stroke="#c4c4c4" stroke-width="1"/>
<rect x="527.6" y="370" width="206.40" height="16" fill="#0070b9"/>
<rect x="666.0" y="370" width="7.00" height="16" fill="#bccad2"/>
<text x="114.0" y="380.90" font-size="10" text-anchor="end" fill="#000" stroke="#000" stroke-width="0.18">[5]; NP 1</text>
<line x1="119" y1="393.0" x2="799" y2="393.0" stroke="#d9d9d9" stroke-width="2"/>
<line x1="119" y1="411.0" x2="799" y2="411.0" stroke="#d9d9d9" stroke-width="2"/>
<line x1="120.0" y1="392" x2="120.0" y2="412" stroke="#c8c8c8" stroke-width="2"/>
<line x1="798.0" y1="392" x2="798.0" y2="412" stroke="#d8d8d8" stroke-width="2"/>
<line x1="768.05" y1="392" x2="768.05" y2="394" stroke="#c4c4c4" stroke-width="1"/>
<line x1="768.05" y1="410" x2="768.05" y2="412" stroke="#c4c4c4" stroke-width="1"/>
<line x1="736.74" y1="392" x2="736.74" y2="394" stroke="#c4c4c4" stroke-width="1"/>
<line x1="736.74" y1="410" x2="736.74" y2="412" stroke="#c4c4c4" stroke-width="1"/>
<line x1="705.43" y1="392" x2="705.43" y2="394" stroke="#c4c4c4" stroke-width="1"/>
<line x1="705.43" y1="410" x2="705.43" y2="412" stroke="#c4c4c4" stroke-width="1"/>
<line x1="674.12" y1="392" x2="674.12" y2="394" stroke="#c4c4c4" stroke-width="1"/>
<line x1="674.12" y1="410" x2="674.12" y2="412" stroke="#c4c4c4" stroke-width="1"/>
<line x1="642.81" y1="392" x2="642.81" y2="394" stroke="#c4c4c4" stroke-width="1"/>
<line x1="642.81" y1="410" x2="642.81" y2="412" stroke="#c4c4c4" stroke-width="1"/>
<line x1="611.5" y1="392" x2="611.5" y2="394" stroke="#c4c4c4" stroke-width="1"/>
<line x1="611.5" y1="410" x2="611.5" y2="412" stroke="#c4c4c4" stroke-width="1"/>
<line x1="580.19" y1="392" x2="580.19" y2="394" stroke="#c4c4c4" stroke-width="1"/>
<line x1="580.19" y1="410" x2="580.19" y2="412" stroke="#c4c4c4" stroke-width="1"/>
<line x1="548.88" y1="392" x2="548.88" y2="394" stroke="#c4c4c4" stroke-width="1"/>
<line x1="548.88" y1="410" x2="548.88" y2="412" stroke="#c4c4c4" stroke-width="1"/>
<line x1="517.57" y1="392" x2="517.57" y2="394" stroke="#c4c4c4" stroke-width="1"/>
<line x1="517.57" y1="410" x2="517.57" y2="412" stroke="#c4c4c4" stroke-width="1"/>
<line x1="486.26" y1="392" x2="486.26" y2="394" stroke="#c4c4c4" stroke-width="1"/>
<line x1="486.26" y1="410" x2="486.26" y2="412" stroke="#c4c4c4" stroke-width="1"/>
<line x1="454.95" y1="392" x2="454.95" y2="394" stroke="#c4c4c4" stroke-width="1"/>
<line x1="454.95" y1="410" x2="454.95" y2="412" stroke="#c4c4c4" stroke-width="1"/>
<line x1="423.64" y1="392" x2="423.64" y2="394" stroke="#c4c4c4" stroke-width="1"/>
<line x1="423.64" y1="410" x2="423.64" y2="412" stroke="#c4c4c4" stroke-width="1"/>
<line x1="392.33" y1="392" x2="392.33" y2="394" stroke="#c4c4c4" stroke-width="1"/>
<line x1="392.33" y1="410" x2="392.33" y2="412" stroke="#c4c4c4" stroke-width="1"/>
<line x1="361.02" y1="392" x2="361.02" y2="394" stroke="#c4c4c4" stroke-width="1"/>
<line x1="361.02" y1="410" x2="361.02" y2="412" stroke="#c4c4c4" stroke-width="1"/>
<line x1="329.71" y1="392" x2="329.71" y2="394" stroke="#c4c4c4" stroke-width="1"/>
<line x1="329.71" y1="410" x2="329.71" y2="412" stroke="#c4c4c4" stroke-width="1"/>
<line x1="298.4" y1="392" x2="298.4" y2="394" stroke="#c4c4c4" stroke-width="1"/>
<line x1="298.4" y1="410" x2="298.4" y2="412" stroke="#c4c4c4" stroke-width="1"/>
<line x1="267.09" y1="392" x2="267.09" y2="394" stroke="#c4c4c4" stroke-width="1"/>
<line x1="267.09" y1="410" x2="267.09" y2="412" stroke="#c4c4c4" stroke-width="1"/>
<line x1="235.78" y1="392" x2="235.78" y2="394" stroke="#c4c4c4" stroke-width="1"/>
<line x1="235.78" y1="410" x2="235.78" y2="412" stroke="#c4c4c4" stroke-width="1"/>
<line x1="204.47" y1="392" x2="204.47" y2="394" stroke="#c4c4c4" stroke-width="1"/>
<line x1="204.47" y1="410" x2="204.47" y2="412" stroke="#c4c4c4" stroke-width="1"/>
<line x1="173.16" y1="392" x2="173.16" y2="394" stroke="#c4c4c4" stroke-width="1"/>
<line x1="173.16" y1="410" x2="173.16" y2="412" stroke="#c4c4c4" stroke-width="1"/>
<line x1="141.85" y1="392" x2="141.85" y2="394" stroke="#c4c4c4" stroke-width="1"/>
<line x1="141.85" y1="410" x2="141.85" y2="412" stroke="#c4c4c4" stroke-width="1"/>
<rect x="527.6" y="394" width="206.40" height="16" fill="#0070b9"/>
<rect x="609.8" y="394" width="9.20" height="16" fill="#bccad2"/>
<text x="114.0" y="404.90" font-size="10" text-anchor="end" fill="#000" stroke="#000" stroke-width="0.18">[5]; NP 1</text>
<line x1="119" y1="417.0" x2="799" y2="417.0" stroke="#d9d9d9" stroke-width="2"/>
<line x1="119" y1="435.0" x2="799" y2="435.0" stroke="#d9d9d9" stroke-width="2"/>
<line x1="120.0" y1="416" x2="120.0" y2="436" stroke="#c8c8c8" stroke-width="2"/>
<line x1="798.0" y1="416" x2="798.0" y2="436" stroke="#d8d8d8" stroke-width="2"/>
<line x1="768.05" y1="416" x2="768.05" y2="418" stroke="#c4c4c4" stroke-width="1"/>
<line x1="768.05" y1="434" x2="768.05" y2="436" stroke="#c4c4c4" stroke-width="1"/>
<line x1="736.74" y1="416" x2="736.74" y2="418" stroke="#c4c4c4" stroke-width="1"/>
<line x1="736.74" y1="434" x2="736.74" y2="436" stroke="#c4c4c4" stroke-width="1"/>
<line x1="705.43" y1="416" x2="705.43" y2="418" stroke="#c4c4c4" stroke-width="1"/>
<line x1="705.43" y1="434" x2="705.43" y2="436" stroke="#c4c4c4" stroke-width="1"/>
<line x1="674.12" y1="416" x2="674.12" y2="418" stroke="#c4c4c4" stroke-width="1"/>
<line x1="674.12" y1="434" x2="674.12" y2="436" stroke="#c4c4c4" stroke-width="1"/>
<line x1="642.81" y1="416" x2="642.81" y2="418" stroke="#c4c4c4" stroke-width="1"/>
<line x1="642.81" y1="434" x2="642.81" y2="436" stroke="#c4c4c4" stroke-width="1"/>
<line x1="611.5" y1="416" x2="611.5" y2="418" stroke="#c4c4c4" stroke-width="1"/>
<line x1="611.5" y1="434" x2="611.5" y2="436" stroke="#c4c4c4" stroke-width="1"/>
<line x1="580.19" y1="416" x2="580.19" y2="418" stroke="#c4c4c4" stroke-width="1"/>
<line x1="580.19" y1="434" x2="580.19" y2="436" stroke="#c4c4c4" stroke-width="1"/>
<line x1="548.88" y1="416" x2="548.88" y2="418" stroke="#c4c4c4" stroke-width="1"/>
<line x1="548.88" y1="434" x2="548.88" y2="436" stroke="#c4c4c4" stroke-width="1"/>
<line x1="517.57" y1="416" x2="517.57" y2="418" stroke="#c4c4c4" stroke-width="1"/>
<line x1="517.57" y1="434" x2="517.57" y2="436" stroke="#c4c4c4" stroke-width="1"/>
<line x1="486.26" y1="416" x2="486.26" y2="418" stroke="#c4c4c4" stroke-width="1"/>
<line x1="486.26" y1="434" x2="486.26" y2="436" stroke="#c4c4c4" stroke-width="1"/>
<line x1="454.95" y1="416" x2="454.95" y2="418" stroke="#c4c4c4" stroke-width="1"/>
<line x1="454.95" y1="434" x2="454.95" y2="436" stroke="#c4c4c4" stroke-width="1"/>
<line x1="423.64" y1="416" x2="423.64" y2="418" stroke="#c4c4c4" stroke-width="1"/>
<line x1="423.64" y1="434" x2="423.64" y2="436" stroke="#c4c4c4" stroke-width="1"/>
<line x1="392.33" y1="416" x2="392.33" y2="418" stroke="#c4c4c4" stroke-width="1"/>
<line x1="392.33" y1="434" x2="392.33" y2="436" stroke="#c4c4c4" stroke-width="1"/>
<line x1="361.02" y1="416" x2="361.02" y2="418" stroke="#c4c4c4" stroke-width="1"/>
<line x1="361.02" y1="434" x2="361.02" y2="436" stroke="#c4c4c4" stroke-width="1"/>
<line x1="329.71" y1="416" x2="329.71" y2="418" stroke="#c4c4c4" stroke-width="1"/>
<line x1="329.71" y1="434" x2="329.71" y2="436" stroke="#c4c4c4" stroke-width="1"/>
<line x1="298.4" y1="416" x2="298.4" y2="418" stroke="#c4c4c4" stroke-width="1"/>
<line x1="298.4" y1="434" x2="298.4" y2="436" stroke="#c4c4c4" stroke-width="1"/>
<line x1="267.09" y1="416" x2="267.09" y2="418" stroke="#c4c4c4" stroke-width="1"/>
<line x1="267.09" y1="434" x2="267.09" y2="436" stroke="#c4c4c4" stroke-width="1"/>
<line x1="235.78" y1="416" x2="235.78" y2="418" stroke="#c4c4c4" stroke-width="1"/>
<line x1="235.78" y1="434" x2="235.78" y2="436" stroke="#c4c4c4" stroke-width="1"/>
<line x1="204.47" y1="416" x2="204.47" y2="418" stroke="#c4c4c4" stroke-width="1"/>
<line x1="204.47" y1="434" x2="204.47" y2="436" stroke="#c4c4c4" stroke-width="1"/>
<line x1="173.16" y1="416" x2="173.16" y2="418" stroke="#c4c4c4" stroke-width="1"/>
<line x1="173.16" y1="434" x2="173.16" y2="436" stroke="#c4c4c4" stroke-width="1"/>
<line x1="141.85" y1="416" x2="141.85" y2="418" stroke="#c4c4c4" stroke-width="1"/>
<line x1="141.85" y1="434" x2="141.85" y2="436" stroke="#c4c4c4" stroke-width="1"/>
<rect x="120" y="418" width="344.30" height="16" fill="#0070b9"/>
<text x="114.0" y="428.90" font-size="10" text-anchor="end" fill="#000" stroke="#000" stroke-width="0.18">[6]; NP 1</text>
<line x1="119" y1="441.0" x2="799" y2="441.0" stroke="#d9d9d9" stroke-width="2"/>
<line x1="119" y1="459.0" x2="799" y2="459.0" stroke="#d9d9d9" stroke-width="2"/>
<line x1="120.0" y1="440" x2="120.0" y2="460" stroke="#c8c8c8" stroke-width="2"/>
<line x1="798.0" y1="440" x2="798.0" y2="460" stroke="#d8d8d8" stroke-width="2"/>
<line x1="768.05" y1="440" x2="768.05" y2="442" stroke="#c4c4c4" stroke-width="1"/>
<line x1="768.05" y1="458" x2="768.05" y2="460" stroke="#c4c4c4" stroke-width="1"/>
<line x1="736.74" y1="440" x2="736.74" y2="442" stroke="#c4c4c4" stroke-width="1"/>
<line x1="736.74" y1="458" x2="736.74" y2="460" stroke="#c4c4c4" stroke-width="1"/>
<line x1="705.43" y1="440" x2="705.43" y2="442" stroke="#c4c4c4" stroke-width="1"/>
<line x1="705.43" y1="458" x2="705.43" y2="460" stroke="#c4c4c4" stroke-width="1"/>
<line x1="674.12" y1="440" x2="674.12" y2="442" stroke="#c4c4c4" stroke-width="1"/>
<line x1="674.12" y1="458" x2="674.12" y2="460" stroke="#c4c4c4" stroke-width="1"/>
<line x1="642.81" y1="440" x2="642.81" y2="442" stroke="#c4c4c4" stroke-width="1"/>
<line x1="642.81" y1="458" x2="642.81" y2="460" stroke="#c4c4c4" stroke-width="1"/>
<line x1="611.5" y1="440" x2="611.5" y2="442" stroke="#c4c4c4" stroke-width="1"/>
<line x1="611.5" y1="458" x2="611.5" y2="460" stroke="#c4c4c4" stroke-width="1"/>
<line x1="580.19" y1="440" x2="580.19" y2="442" stroke="#c4c4c4" stroke-width="1"/>
<line x1="580.19" y1="458" x2="580.19" y2="460" stroke="#c4c4c4" stroke-width="1"/>
<line x1="548.88" y1="440" x2="548.88" y2="442" stroke="#c4c4c4" stroke-width="1"/>
<line x1="548.88" y1="458" x2="548.88" y2="460" stroke="#c4c4c4" stroke-width="1"/>
<line x1="517.57" y1="440" x2="517.57" y2="442" stroke="#c4c4c4" stroke-width="1"/>
<line x1="517.57" y1="458" x2="517.57" y2="460" stroke="#c4c4c4" stroke-width="1"/>
<line x1="486.26" y1="440" x2="486.26" y2="442" stroke="#c4c4c4" stroke-width="1"/>
<line x1="486.26" y1="458" x2="486.26" y2="460" stroke="#c4c4c4" stroke-width="1"/>
<line x1="454.95" y1="440" x2="454.95" y2="442" stroke="#c4c4c4" stroke-width="1"/>
<line x1="454.95" y1="458" x2="454.95" y2="460" stroke="#c4c4c4" stroke-width="1"/>
<line x1="423.64" y1="440" x2="423.64" y2="442" stroke="#c4c4c4" stroke-width="1"/>
<line x1="423.64" y1="458" x2="423.64" y2="460" stroke="#c4c4c4" stroke-width="1"/>
<line x1="392.33" y1="440" x2="392.33" y2="442" stroke="#c4c4c4" stroke-width="1"/>
<line x1="392.33" y1="458" x2="392.33" y2="460" stroke="#c4c4c4" stroke-width="1"/>
<line x1="361.02" y1="440" x2="361.02" y2="442" stroke="#c4c4c4" stroke-width="1"/>
<line x1="361.02" y1="458" x2="361.02" y2="460" stroke="#c4c4c4" stroke-width="1"/>
<line x1="329.71" y1="440" x2="329.71" y2="442" stroke="#c4c4c4" stroke-width="1"/>
<line x1="329.71" y1="458" x2="329.71" y2="460" stroke="#c4c4c4" stroke-width="1"/>
<line x1="298.4" y1="440" x2="298.4" y2="442" stroke="#c4c4c4" stroke-width="1"/>
<line x1="298.4" y1="458" x2="298.4" y2="460" stroke="#c4c4c4" stroke-width="1"/>
<line x1="267.09" y1="440" x2="267.09" y2="442" stroke="#c4c4c4" stroke-width="1"/>
<line x1="267.09" y1="458" x2="267.09" y2="460" stroke="#c4c4c4" stroke-width="1"/>
<line x1="235.78" y1="440" x2="235.78" y2="442" stroke="#c4c4c4" stroke-width="1"/>
<line x1="235.78" y1="458" x2="235.78" y2="460" stroke="#c4c4c4" stroke-width="1"/>
<line x1="204.47" y1="440" x2="204.47" y2="442" stroke="#c4c4c4" stroke-width="1"/>
<line x1="204.47" y1="458" x2="204.47" y2="460" stroke="#c4c4c4" stroke-width="1"/>
<line x1="173.16" y1="440" x2="173.16" y2="442" stroke="#c4c4c4" stroke-width="1"/>
<line x1="173.16" y1="458" x2="173.16" y2="460" stroke="#c4c4c4" stroke-width="1"/>
<line x1="141.85" y1="440" x2="141.85" y2="442" stroke="#c4c4c4" stroke-width="1"/>
<line x1="141.85" y1="458" x2="141.85" y2="460" stroke="#c4c4c4" stroke-width="1"/>
<rect x="120" y="442" width="344.30" height="16" fill="#0070b9"/>
<text x="114.0" y="452.90" font-size="10" text-anchor="end" fill="#000" stroke="#000" stroke-width="0.18">[6]; NP 1</text>
<line x1="119" y1="465.0" x2="799" y2="465.0" stroke="#d9d9d9" stroke-width="2"/>
<line x1="119" y1="482.0" x2="799" y2="482.0" stroke="#d9d9d9" stroke-width="2"/>
<line x1="120.0" y1="464" x2="120.0" y2="483" stroke="#c8c8c8" stroke-width="2"/>
<line x1="798.0" y1="464" x2="798.0" y2="483" stroke="#d8d8d8" stroke-width="2"/>
<line x1="768.05" y1="464" x2="768.05" y2="466" stroke="#c4c4c4" stroke-width="1"/>
<line x1="768.05" y1="481" x2="768.05" y2="483" stroke="#c4c4c4" stroke-width="1"/>
<line x1="736.74" y1="464" x2="736.74" y2="466" stroke="#c4c4c4" stroke-width="1"/>
<line x1="736.74" y1="481" x2="736.74" y2="483" stroke="#c4c4c4" stroke-width="1"/>
<line x1="705.43" y1="464" x2="705.43" y2="466" stroke="#c4c4c4" stroke-width="1"/>
<line x1="705.43" y1="481" x2="705.43" y2="483" stroke="#c4c4c4" stroke-width="1"/>
<line x1="674.12" y1="464" x2="674.12" y2="466" stroke="#c4c4c4" stroke-width="1"/>
<line x1="674.12" y1="481" x2="674.12" y2="483" stroke="#c4c4c4" stroke-width="1"/>
<line x1="642.81" y1="464" x2="642.81" y2="466" stroke="#c4c4c4" stroke-width="1"/>
<line x1="642.81" y1="481" x2="642.81" y2="483" stroke="#c4c4c4" stroke-width="1"/>
<line x1="611.5" y1="464" x2="611.5" y2="466" stroke="#c4c4c4" stroke-width="1"/>
<line x1="611.5" y1="481" x2="611.5" y2="483" stroke="#c4c4c4" stroke-width="1"/>
<line x1="580.19" y1="464" x2="580.19" y2="466" stroke="#c4c4c4" stroke-width="1"/>
<line x1="580.19" y1="481" x2="580.19" y2="483" stroke="#c4c4c4" stroke-width="1"/>
<line x1="548.88" y1="464" x2="548.88" y2="466" stroke="#c4c4c4" stroke-width="1"/>
<line x1="548.88" y1="481" x2="548.88" y2="483" stroke="#c4c4c4" stroke-width="1"/>
<line x1="517.57" y1="464" x2="517.57" y2="466" stroke="#c4c4c4" stroke-width="1"/>
<line x1="517.57" y1="481" x2="517.57" y2="483" stroke="#c4c4c4" stroke-width="1"/>
<line x1="486.26" y1="464" x2="486.26" y2="466" stroke="#c4c4c4" stroke-width="1"/>
<line x1="486.26" y1="481" x2="486.26" y2="483" stroke="#c4c4c4" stroke-width="1"/>
<line x1="454.95" y1="464" x2="454.95" y2="466" stroke="#c4c4c4" stroke-width="1"/>
<line x1="454.95" y1="481" x2="454.95" y2="483" stroke="#c4c4c4" stroke-width="1"/>
<line x1="423.64" y1="464" x2="423.64" y2="466" stroke="#c4c4c4" stroke-width="1"/>
<line x1="423.64" y1="481" x2="423.64" y2="483" stroke="#c4c4c4" stroke-width="1"/>
<line x1="392.33" y1="464" x2="392.33" y2="466" stroke="#c4c4c4" stroke-width="1"/>
<line x1="392.33" y1="481" x2="392.33" y2="483" stroke="#c4c4c4" stroke-width="1"/>
<line x1="361.02" y1="464" x2="361.02" y2="466" stroke="#c4c4c4" stroke-width="1"/>
<line x1="361.02" y1="481" x2="361.02" y2="483" stroke="#c4c4c4" stroke-width="1"/>
<line x1="329.71" y1="464" x2="329.71" y2="466" stroke="#c4c4c4" stroke-width="1"/>
<line x1="329.71" y1="481" x2="329.71" y2="483" stroke="#c4c4c4" stroke-width="1"/>
<line x1="298.4" y1="464" x2="298.4" y2="466" stroke="#c4c4c4" stroke-width="1"/>
<line x1="298.4" y1="481" x2="298.4" y2="483" stroke="#c4c4c4" stroke-width="1"/>
<line x1="267.09" y1="464" x2="267.09" y2="466" stroke="#c4c4c4" stroke-width="1"/>
<line x1="267.09" y1="481" x2="267.09" y2="483" stroke="#c4c4c4" stroke-width="1"/>
<line x1="235.78" y1="464" x2="235.78" y2="466" stroke="#c4c4c4" stroke-width="1"/>
<line x1="235.78" y1="481" x2="235.78" y2="483" stroke="#c4c4c4" stroke-width="1"/>
<line x1="204.47" y1="464" x2="204.47" y2="466" stroke="#c4c4c4" stroke-width="1"/>
<line x1="204.47" y1="481" x2="204.47" y2="483" stroke="#c4c4c4" stroke-width="1"/>
<line x1="173.16" y1="464" x2="173.16" y2="466" stroke="#c4c4c4" stroke-width="1"/>
<line x1="173.16" y1="481" x2="173.16" y2="483" stroke="#c4c4c4" stroke-width="1"/>
<line x1="141.85" y1="464" x2="141.85" y2="466" stroke="#c4c4c4" stroke-width="1"/>
<line x1="141.85" y1="481" x2="141.85" y2="483" stroke="#c4c4c4" stroke-width="1"/>
<rect x="449" y="466" width="265.80" height="15" fill="#0070b9"/>
<rect x="567" y="466" width="13.00" height="15" fill="#bccad2"/>
<text x="114.0" y="476.40" font-size="10" text-anchor="end" fill="#000" stroke="#000" stroke-width="0.18">[7]; NP 1</text>
<line x1="119" y1="488.0" x2="799" y2="488.0" stroke="#d9d9d9" stroke-width="2"/>
<line x1="119" y1="506.0" x2="799" y2="506.0" stroke="#d9d9d9" stroke-width="2"/>
<line x1="120.0" y1="487" x2="120.0" y2="507" stroke="#c8c8c8" stroke-width="2"/>
<line x1="798.0" y1="487" x2="798.0" y2="507" stroke="#d8d8d8" stroke-width="2"/>
<line x1="768.05" y1="487" x2="768.05" y2="489" stroke="#c4c4c4" stroke-width="1"/>
<line x1="768.05" y1="505" x2="768.05" y2="507" stroke="#c4c4c4" stroke-width="1"/>
<line x1="736.74" y1="487" x2="736.74" y2="489" stroke="#c4c4c4" stroke-width="1"/>
<line x1="736.74" y1="505" x2="736.74" y2="507" stroke="#c4c4c4" stroke-width="1"/>
<line x1="705.43" y1="487" x2="705.43" y2="489" stroke="#c4c4c4" stroke-width="1"/>
<line x1="705.43" y1="505" x2="705.43" y2="507" stroke="#c4c4c4" stroke-width="1"/>
<line x1="674.12" y1="487" x2="674.12" y2="489" stroke="#c4c4c4" stroke-width="1"/>
<line x1="674.12" y1="505" x2="674.12" y2="507" stroke="#c4c4c4" stroke-width="1"/>
<line x1="642.81" y1="487" x2="642.81" y2="489" stroke="#c4c4c4" stroke-width="1"/>
<line x1="642.81" y1="505" x2="642.81" y2="507" stroke="#c4c4c4" stroke-width="1"/>
<line x1="611.5" y1="487" x2="611.5" y2="489" stroke="#c4c4c4" stroke-width="1"/>
<line x1="611.5" y1="505" x2="611.5" y2="507" stroke="#c4c4c4" stroke-width="1"/>
<line x1="580.19" y1="487" x2="580.19" y2="489" stroke="#c4c4c4" stroke-width="1"/>
<line x1="580.19" y1="505" x2="580.19" y2="507" stroke="#c4c4c4" stroke-width="1"/>
<line x1="548.88" y1="487" x2="548.88" y2="489" stroke="#c4c4c4" stroke-width="1"/>
<line x1="548.88" y1="505" x2="548.88" y2="507" stroke="#c4c4c4" stroke-width="1"/>
<line x1="517.57" y1="487" x2="517.57" y2="489" stroke="#c4c4c4" stroke-width="1"/>
<line x1="517.57" y1="505" x2="517.57" y2="507" stroke="#c4c4c4" stroke-width="1"/>
<line x1="486.26" y1="487" x2="486.26" y2="489" stroke="#c4c4c4" stroke-width="1"/>
<line x1="486.26" y1="505" x2="486.26" y2="507" stroke="#c4c4c4" stroke-width="1"/>
<line x1="454.95" y1="487" x2="454.95" y2="489" stroke="#c4c4c4" stroke-width="1"/>
<line x1="454.95" y1="505" x2="454.95" y2="507" stroke="#c4c4c4" stroke-width="1"/>
<line x1="423.64" y1="487" x2="423.64" y2="489" stroke="#c4c4c4" stroke-width="1"/>
<line x1="423.64" y1="505" x2="423.64" y2="507" stroke="#c4c4c4" stroke-width="1"/>
<line x1="392.33" y1="487" x2="392.33" y2="489" stroke="#c4c4c4" stroke-width="1"/>
<line x1="392.33" y1="505" x2="392.33" y2="507" stroke="#c4c4c4" stroke-width="1"/>
<line x1="361.02" y1="487" x2="361.02" y2="489" stroke="#c4c4c4" stroke-width="1"/>
<line x1="361.02" y1="505" x2="361.02" y2="507" stroke="#c4c4c4" stroke-width="1"/>
<line x1="329.71" y1="487" x2="329.71" y2="489" stroke="#c4c4c4" stroke-width="1"/>
<line x1="329.71" y1="505" x2="329.71" y2="507" stroke="#c4c4c4" stroke-width="1"/>
<line x1="298.4" y1="487" x2="298.4" y2="489" stroke="#c4c4c4" stroke-width="1"/>
<line x1="298.4" y1="505" x2="298.4" y2="507" stroke="#c4c4c4" stroke-width="1"/>
<line x1="267.09" y1="487" x2="267.09" y2="489" stroke="#c4c4c4" stroke-width="1"/>
<line x1="267.09" y1="505" x2="267.09" y2="507" stroke="#c4c4c4" stroke-width="1"/>
<line x1="235.78" y1="487" x2="235.78" y2="489" stroke="#c4c4c4" stroke-width="1"/>
<line x1="235.78" y1="505" x2="235.78" y2="507" stroke="#c4c4c4" stroke-width="1"/>
<line x1="204.47" y1="487" x2="204.47" y2="489" stroke="#c4c4c4" stroke-width="1"/>
<line x1="204.47" y1="505" x2="204.47" y2="507" stroke="#c4c4c4" stroke-width="1"/>
<line x1="173.16" y1="487" x2="173.16" y2="489" stroke="#c4c4c4" stroke-width="1"/>
<line x1="173.16" y1="505" x2="173.16" y2="507" stroke="#c4c4c4" stroke-width="1"/>
<line x1="141.85" y1="487" x2="141.85" y2="489" stroke="#c4c4c4" stroke-width="1"/>
<line x1="141.85" y1="505" x2="141.85" y2="507" stroke="#c4c4c4" stroke-width="1"/>
<rect x="618" y="489" width="122.00" height="16" fill="#0070b9"/>
<rect x="681.9" y="489" width="15.00" height="16" fill="#bccad2"/>
<text x="114.0" y="499.90" font-size="10" text-anchor="end" fill="#000" stroke="#000" stroke-width="0.18">[8]; NP 3</text>
<line x1="119" y1="506.5" x2="799" y2="506.5" stroke="#a4a4a4" stroke-width="1"/>
<line x1="768.05" y1="506" x2="768.05" y2="509" stroke="#a8a8a8" stroke-width="1"/>
<text x="768.05" y="520" font-size="10" text-anchor="middle" fill="#000" stroke="#000" stroke-width="0.18">0.0</text>
<line x1="736.74" y1="506" x2="736.74" y2="509" stroke="#a8a8a8" stroke-width="1"/>
<text x="736.74" y="520" font-size="10" text-anchor="middle" fill="#000" stroke="#000" stroke-width="0.18">0.5</text>
<line x1="705.43" y1="506" x2="705.43" y2="509" stroke="#a8a8a8" stroke-width="1"/>
<text x="705.43" y="520" font-size="10" text-anchor="middle" fill="#000" stroke="#000" stroke-width="0.18">1.0</text>
<line x1="674.12" y1="506" x2="674.12" y2="509" stroke="#a8a8a8" stroke-width="1"/>
<text x="674.12" y="520" font-size="10" text-anchor="middle" fill="#000" stroke="#000" stroke-width="0.18">1.5</text>
<line x1="642.81" y1="506" x2="642.81" y2="509" stroke="#a8a8a8" stroke-width="1"/>
<text x="642.81" y="520" font-size="10" text-anchor="middle" fill="#000" stroke="#000" stroke-width="0.18">2.0</text>
<line x1="611.50" y1="506" x2="611.50" y2="509" stroke="#a8a8a8" stroke-width="1"/>
<text x="611.50" y="520" font-size="10" text-anchor="middle" fill="#000" stroke="#000" stroke-width="0.18">2.5</text>
<line x1="580.19" y1="506" x2="580.19" y2="509" stroke="#a8a8a8" stroke-width="1"/>
<text x="580.19" y="520" font-size="10" text-anchor="middle" fill="#000" stroke="#000" stroke-width="0.18">3.0</text>
<line x1="548.88" y1="506" x2="548.88" y2="509" stroke="#a8a8a8" stroke-width="1"/>
<text x="548.88" y="520" font-size="10" text-anchor="middle" fill="#000" stroke="#000" stroke-width="0.18">3.5</text>
<line x1="517.57" y1="506" x2="517.57" y2="509" stroke="#a8a8a8" stroke-width="1"/>
<text x="517.57" y="520" font-size="10" text-anchor="middle" fill="#000" stroke="#000" stroke-width="0.18">4.0</text>
<line x1="486.26" y1="506" x2="486.26" y2="509" stroke="#a8a8a8" stroke-width="1"/>
<text x="486.26" y="520" font-size="10" text-anchor="middle" fill="#000" stroke="#000" stroke-width="0.18">4.5</text>
<line x1="454.95" y1="506" x2="454.95" y2="509" stroke="#a8a8a8" stroke-width="1"/>
<text x="454.95" y="520" font-size="10" text-anchor="middle" fill="#000" stroke="#000" stroke-width="0.18">5.0</text>
<line x1="423.64" y1="506" x2="423.64" y2="509" stroke="#a8a8a8" stroke-width="1"/>
<text x="423.64" y="520" font-size="10" text-anchor="middle" fill="#000" stroke="#000" stroke-width="0.18">5.5</text>
<line x1="392.33" y1="506" x2="392.33" y2="509" stroke="#a8a8a8" stroke-width="1"/>
<text x="392.33" y="520" font-size="10" text-anchor="middle" fill="#000" stroke="#000" stroke-width="0.18">6.0</text>
<line x1="361.02" y1="506" x2="361.02" y2="509" stroke="#a8a8a8" stroke-width="1"/>
<text x="361.02" y="520" font-size="10" text-anchor="middle" fill="#000" stroke="#000" stroke-width="0.18">6.5</text>
<line x1="329.71" y1="506" x2="329.71" y2="509" stroke="#a8a8a8" stroke-width="1"/>
<text x="329.71" y="520" font-size="10" text-anchor="middle" fill="#000" stroke="#000" stroke-width="0.18">7.0</text>
<line x1="298.40" y1="506" x2="298.40" y2="509" stroke="#a8a8a8" stroke-width="1"/>
<text x="298.40" y="520" font-size="10" text-anchor="middle" fill="#000" stroke="#000" stroke-width="0.18">7.5</text>
<line x1="267.09" y1="506" x2="267.09" y2="509" stroke="#a8a8a8" stroke-width="1"/>
<text x="267.09" y="520" font-size="10" text-anchor="middle" fill="#000" stroke="#000" stroke-width="0.18">8.0</text>
<line x1="235.78" y1="506" x2="235.78" y2="509" stroke="#a8a8a8" stroke-width="1"/>
<text x="235.78" y="520" font-size="10" text-anchor="middle" fill="#000" stroke="#000" stroke-width="0.18">8.5</text>
<line x1="204.47" y1="506" x2="204.47" y2="509" stroke="#a8a8a8" stroke-width="1"/>
<text x="204.47" y="520" font-size="10" text-anchor="middle" fill="#000" stroke="#000" stroke-width="0.18">9.0</text>
<line x1="173.16" y1="506" x2="173.16" y2="509" stroke="#a8a8a8" stroke-width="1"/>
<text x="173.16" y="520" font-size="10" text-anchor="middle" fill="#000" stroke="#000" stroke-width="0.18">9.5</text>
<line x1="141.85" y1="506" x2="141.85" y2="509" stroke="#a8a8a8" stroke-width="1"/>
<text x="141.85" y="520" font-size="10" text-anchor="middle" fill="#000" stroke="#000" stroke-width="0.18">10.0</text>
<text x="459" y="536" font-size="12" text-anchor="middle" fill="#000" stroke="#000" stroke-width="0.18">Chemical shift [ppm]</text>
</svg></body></html>
